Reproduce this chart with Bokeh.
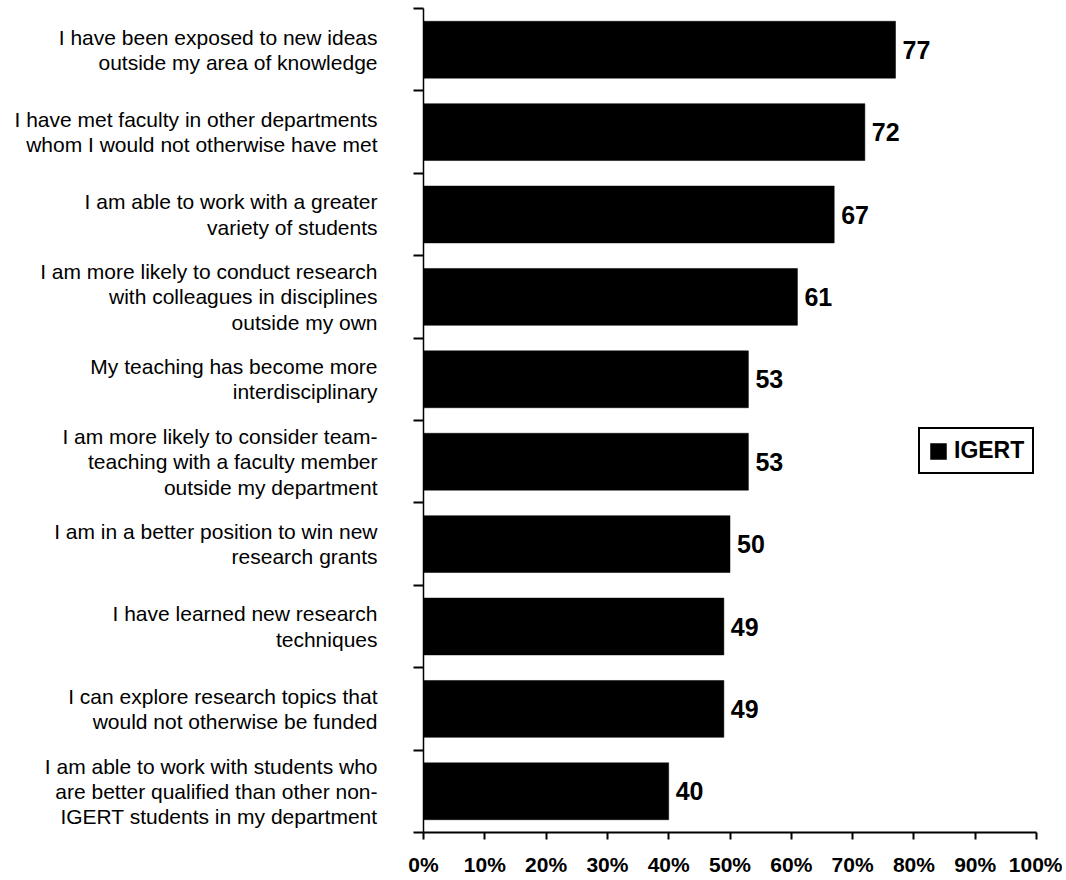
from bokeh.plotting import figure
from bokeh.models import Range1d, FixedTicker, ColumnDataSource, Legend, LegendItem
from bokeh.embed import file_html
from bokeh.resources import INLINE
from bokeh.core.properties import value

categories = [
    "I have been exposed to new ideas\noutside my area of knowledge",
    "I have met faculty in other departments\nwhom I would not otherwise have met",
    "I am able to work with a greater\nvariety of students",
    "I am more likely to conduct research\nwith colleagues in disciplines\noutside my own",
    "My teaching has become more\ninterdisciplinary",
    "I am more likely to consider team-\nteaching with a faculty member\noutside my department",
    "I am in a better position to win new\nresearch grants",
    "I have learned new research\ntechniques",
    "I can explore research topics that\nwould not otherwise be funded",
    "I am able to work with students who\nare better qualified than other non-\nIGERT students in my department",
]
igert = [77, 72, 67, 61, 53, 53, 50, 49, 49, 40]
x_ticks = [0, 10, 20, 30, 40, 50, 60, 70, 80, 90, 100]
x_tick_labels = ["0%", "10%", "20%", "30%", "40%", "50%", "60%", "70%", "80%", "90%", "100%"]
series_name = "IGERT"

n = len(categories)
ypos = [n - 0.5 - i for i in range(n)]
src = ColumnDataSource(dict(y=ypos, v=igert, lbl=[str(v) for v in igert]))

FONT = "Liberation Sans"

p = figure(width=1062, height=878, output_backend="svg", toolbar_location=None,
           x_range=Range1d(0, 100), y_range=Range1d(0, n),
           min_border_left=423, min_border_right=26, min_border_top=8, min_border_bottom=41)
p.outline_line_color = None
p.xgrid.visible = False
p.ygrid.visible = False
p.background_fill_color = "white"
p.border_fill_color = "white"

bars = p.hbar(y="y", right="v", left=0, height=0.69, source=src,
              fill_color="black", line_color="black", line_width=0.5)
p.text(x="v", y="y", text="lbl", source=src, x_offset=7,
       text_baseline="middle", text_align="left",
       text_font=value(FONT), text_font_style="bold", text_font_size="25px",
       text_color="black")

# x axis
xa = p.xaxis[0]
xa.ticker = FixedTicker(ticks=x_ticks, minor_ticks=[])
xa.major_label_overrides = {t: l for t, l in zip(x_ticks, x_tick_labels)}
xa.major_label_text_font = FONT
xa.major_label_text_font_style = "bold"
xa.major_label_text_font_size = "21px"
xa.major_label_text_color = "black"
xa.major_tick_out = 7
xa.major_tick_in = 0
xa.major_tick_line_width = 2
xa.axis_line_width = 2
xa.major_label_standoff = 13

# y axis
ya = p.yaxis[0]
ya.ticker = FixedTicker(ticks=ypos, minor_ticks=list(range(0, n + 1)))
ya.major_label_overrides = {y: c for y, c in zip(ypos, categories)}
ya.major_label_text_font = FONT
ya.major_label_text_font_size = "21px"
ya.major_label_text_color = "black"
ya.major_label_text_line_height = 1.1
ya.major_tick_out = 0
ya.major_tick_in = 0
ya.minor_tick_out = 10
ya.minor_tick_in = 0
ya.minor_tick_line_width = 2
ya.axis_line_width = 1.5
ya.major_label_standoff = 36

legend = Legend(items=[LegendItem(label=series_name, renderers=[bars])],
                location=(495, 358), orientation="vertical",
                label_text_font=FONT, label_text_font_style="bold",
                label_text_font_size="23px", label_text_color="black",
                label_height=22,
                glyph_width=20, glyph_height=20, label_standoff=6,
                padding=8, margin=0, spacing=0,
                border_line_color="black", border_line_width=2, border_line_alpha=1,
                background_fill_color="white", background_fill_alpha=1)
p.add_layout(legend, "center")

open("out.html", "w").write(file_html(p, INLINE))
